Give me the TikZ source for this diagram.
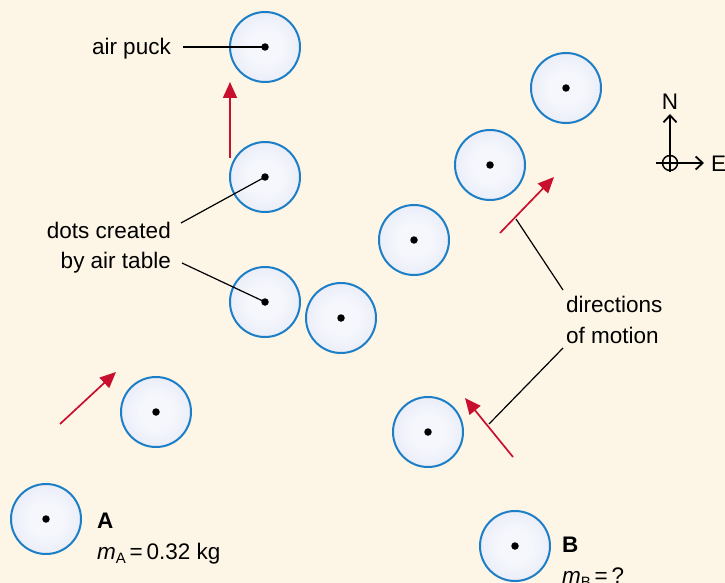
\documentclass[tikz,border=0pt]{standalone}
\usepackage{fontspec}
\setmainfont{Liberation Sans}
\usetikzlibrary{arrows.meta}
\definecolor{bg}{RGB}{253,246,230}
\definecolor{puckedge}{RGB}{28,126,198}
\definecolor{puckin}{RGB}{246,247,253}
\definecolor{puckout}{RGB}{212,220,238}
\definecolor{motred}{RGB}{200,16,46}
\pgfdeclareradialshading{puckshade}{\pgfpoint{0bp}{0bp}}{color(0bp)=(puckin); color(12bp)=(puckin); color(50bp)=(puckout); color(100bp)=(puckout)}
\tikzset{
  puck/.style={circle, draw=puckedge, line width=2pt, minimum size=70pt, inner sep=0pt, shading=puckshade},
  dotmark/.style={fill=black, circle, minimum size=7.5pt, inner sep=0pt},
  lbl/.style={font=\fontsize{22.5}{26}\selectfont, inner sep=0pt},
  leader/.style={draw=black, line width=1.2pt},
  motion/.style={draw=motred, line width=1.7pt, -{Triangle[length=16pt,width=14pt]}},
  compass/.style={draw=black, line width=1.8pt, -{Straight Barb[length=7pt,width=13pt,line width=1.8pt]}}
}
\begin{document}
\begin{tikzpicture}[x=1pt,y=-1pt]
\fill[bg] (0,0) rectangle (725,583);
\useasboundingbox (0,0) rectangle (725,583);
% pucks
\foreach \n/\x/\y in {p1/265/47, p2/265/177, p3/265/302, p4/341/318, p5/156/412, pA/46/519,
  p7/414/240, p8/490/165, p9/566/88, p10/428/432, pB/515/546} {
  \node[puck] (\n) at (\x,\y) {};
  \node[dotmark] at (\n.center) {};
}
% labels
\node[lbl, anchor=base east] (tpuck) at (171,55) {air puck};
\node[lbl, anchor=base east] (tdots) at (171,238) {dots created};
\node[lbl, anchor=base east] (ttable) at (171,268) {by air table};
\node[lbl, anchor=base west] (tdir) at (566,312) {directions};
\node[lbl, anchor=base west] (tmot) at (566,343) {of motion};
\node[lbl, anchor=base west, font=\fontsize{22.5}{26}\selectfont\bfseries] (tA) at (97,528) {A};
\node[lbl, anchor=base west] (tmA) at (97,559) {\textit{m}\raisebox{-0.22em}{\fontsize{15}{18}\selectfont A}\,=\,0.32 kg};
\node[lbl, anchor=base west, font=\fontsize{22.5}{26}\selectfont\bfseries] (tB) at (562,552) {B};
\node[lbl, anchor=base west] (tmB) at (562,583) {\textit{m}\raisebox{-0.22em}{\fontsize{15}{18}\selectfont B}\,=\,?};
% leader lines
\coordinate (lp) at (183,47);
\coordinate (ld) at (181,223);
\coordinate (lt) at (182,263);
\draw[leader] (lp) -- (p1.center);
\draw[leader] (ld) -- (p2.center);
\draw[leader] (lt) -- (p3.center);
% motion arrows
\coordinate (a1s) at (230,158); \coordinate (a1e) at (230,82);
\coordinate (a2s) at (60,424);  \coordinate (a2e) at (116,372);
\coordinate (a3s) at (500,233); \coordinate (a3e) at (554,177);
\coordinate (a4s) at (513,457); \coordinate (a4e) at (465,398);
\draw[motion] (a1s) -- (a1e);
\draw[motion] (a2s) -- (a2e);
\draw[motion] (a3s) -- (a3e);
\draw[motion] (a4s) -- (a4e);
% direction leaders
\coordinate (d1s) at (563,290); \coordinate (d1e) at (516,219);
\coordinate (d2s) at (563,348); \coordinate (d2e) at (489,424);
\draw[leader] (d1s) -- (d1e);
\draw[leader] (d2s) -- (d2e);
% compass
\coordinate (cc) at (670,163);
\coordinate (cn) at (670,114);
\coordinate (cs) at (670,172);
\coordinate (cw) at (656,163);
\coordinate (ce) at (704,163);
\draw[black, line width=1.5pt] (cc) circle (7.5);
\draw[compass] (cs) -- (cn);
\draw[compass] (cw) -- (ce);
\node[lbl, anchor=base] (tN) at (670,110) {N};
\node[lbl, anchor=base west] (tE) at (711,171) {E};
\end{tikzpicture}
\end{document}
